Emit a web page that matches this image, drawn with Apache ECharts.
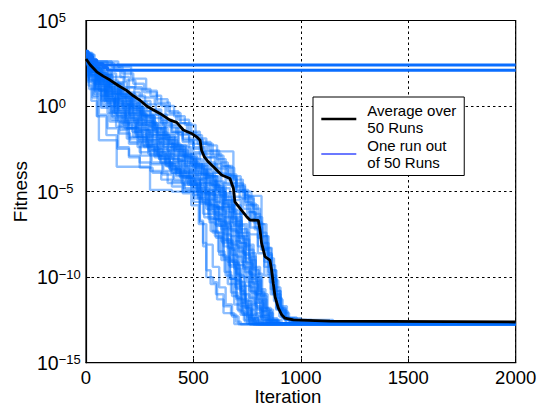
<!DOCTYPE html>
<html>
<head>
<meta charset="utf-8">
<script src="https://cdn.jsdelivr.net/npm/echarts@6/dist/echarts.min.js"></script>
<style>html,body{margin:0;padding:0;background:#fff;}#c{width:545px;height:409px;}</style>
</head>
<body>
<div id="c"></div>
<script>
// x tick values and y tick exponents
const xTicks = [0, 500, 1000, 1500, 2000];
const yTickExponents = [-15, -10, -5, 0, 5];
const legendNames = ['Average over\n50 Runs', 'One run out\nof 50 Runs'];

// Average over 50 runs: [iteration, log10(fitness)]
const average = [[0,2.75],[20,2.4],[50,2.0],[80,1.75],[112,1.52],[150,1.2],[190,0.9],[220,0.6],[250,0.35],[282,0.0],[310,-0.2],[344,-0.43],[391,-0.82],[422,-0.95],[453,-1.4],[491,-1.6],[515,-1.8],[531,-2.0],[538,-2.6],[550,-2.95],[569,-3.26],[600,-3.64],[631,-4.03],[670,-4.23],[686,-4.8],[693,-5.6],[717,-5.98],[748,-6.47],[763,-6.66],[802,-6.68],[810,-7.25],[817,-8.0],[833,-8.8],[856,-9.0],[864,-9.6],[872,-10.4],[880,-11.15],[895,-11.8],[911,-12.2],[926,-12.4],[965,-12.5],[1136,-12.57],[2000,-12.62]];

// Two runs that stagnated near the top
const stuckRuns = [
  [[0,3.2],[10,2.9],[30,2.6],[50,2.4],[2000,2.4]],
  [[0,3.0],[20,2.7],[50,2.45],[80,2.25],[100,2.09],[2000,2.09]]
];

// Individual runs: [iteration, log10(fitness)], value held until next point
const runs = [
  [[0,2.6],[12,1.2],[25,0.3],[50,-0.6],[95,-1.7],[143,-3.55],[298,-4.9],[400,-5.0],[498,-5.2],[530,-6.8],[545,-8.0],[560,-10.0],[592,-10.3],[610,-11.3],[640,-12.1],[690,-12.74],[2000,-12.74]],
  [[0,2.5],[15,1.0],[53,-0.6],[60,-2.0],[140,-2.0],[145,-2.5],[200,-3.0],[250,-3.6],[310,-3.9],[380,-4.5],[450,-5.0],[540,-5.5],[575,-6.8],[600,-7.6],[630,-9.0],[660,-10.4],[690,-11.6],[720,-12.2],[750,-12.73],[2000,-12.73]],
  [[0,2.9],[20,2.1],[45,1.2],[70,0.3],[100,-0.4],[140,-1.2],[190,-1.9],[240,-2.4],[300,-2.9],[350,-3.3],[400,-3.9],[450,-4.6],[520,-5.4],[570,-6.3],[610,-7.4],[640,-8.8],[670,-10.1],[700,-11.2],[725,-12.1],[760,-12.72],[2000,-12.72]],
  [[0,2.8],[25,1.8],[60,0.9],[90,0.2],[130,-0.7],[180,-1.3],[230,-1.6],[260,-2.3],[320,-2.7],[370,-3.4],[420,-4.1],[480,-4.4],[530,-5.1],[590,-6.0],[630,-7.2],[660,-8.3],[690,-9.5],[720,-10.8],[740,-11.7],[770,-12.4],[800,-12.74],[2000,-12.74]],
  [[0,3.0],[15,2.4],[50,1.7],[80,1.1],[120,0.4],[170,-0.1],[220,-0.8],[270,-1.4],[330,-1.9],[380,-2.6],[430,-3.2],[470,-3.8],[520,-4.3],[560,-5.0],[600,-5.9],[650,-6.8],[690,-7.9],[720,-9.1],[750,-10.3],[780,-11.5],[810,-12.3],[840,-12.72],[2000,-12.72]],
  [[0,2.7],[30,1.5],[70,0.6],[110,0.0],[150,-0.9],[200,-1.8],[250,-2.1],[290,-2.8],[340,-3.1],[390,-3.7],[440,-4.2],[500,-4.8],[540,-5.6],[580,-6.2],[620,-7.0],[660,-8.0],[690,-9.3],[715,-10.6],[740,-11.8],[770,-12.5],[790,-12.73],[2000,-12.73]],
  [[0,3.1],[20,2.6],[150,2.3],[210,1.6],[280,0.9],[330,0.4],[380,-0.3],[430,-0.8],[480,-1.5],[530,-2.1],[580,-2.8],[630,-3.5],[670,-4.2],[700,-4.9],[740,-5.6],[770,-6.6],[800,-7.7],[830,-9.1],[855,-10.3],[875,-11.4],[900,-12.3],[930,-12.71],[2000,-12.71]],
  [[0,3.0],[40,2.5],[130,2.1],[180,1.5],[230,1.0],[300,0.6],[350,0.0],[410,-0.6],[460,-1.1],[510,-1.9],[560,-2.3],[610,-3.1],[650,-3.6],[690,-4.3],[730,-5.2],[760,-6.2],[790,-7.1],[820,-8.4],[850,-9.7],[870,-10.9],[895,-11.9],[925,-12.5],[960,-12.72],[2000,-12.72]],
  [[0,2.8],[25,2.2],[70,1.5],[120,0.8],[180,0.3],[240,-0.3],[300,-0.7],[360,-1.2],[420,-1.6],[480,-2.0],[545,-2.65],[686,-4.5],[730,-5.0],[770,-5.8],[800,-6.9],[830,-8.3],[860,-9.6],[885,-10.8],[905,-11.8],[930,-12.4],[970,-12.72],[2000,-12.72]],
  [[0,2.9],[30,2.2],[80,1.4],[130,0.9],[190,0.2],[250,-0.5],[310,-1.0],[370,-1.6],[430,-2.3],[480,-2.8],[530,-3.4],[580,-3.9],[630,-4.5],[700,-5.0],[749,-5.25],[817,-7.6],[845,-8.6],[865,-9.9],[885,-11.0],[905,-11.9],[930,-12.5],[980,-12.7],[2000,-12.7]],
  [[0,2.6],[20,1.9],[60,1.2],[100,0.5],[150,-0.2],[210,-0.9],[260,-1.6],[310,-2.2],[360,-2.8],[410,-3.2],[460,-3.9],[510,-4.5],[560,-5.2],[610,-6.0],[650,-7.1],[680,-8.4],[700,-9.8],[720,-11.0],[745,-12.0],[770,-12.6],[790,-12.74],[2000,-12.74]],
  [[0,2.8],[10,2.0],[40,1.3],[90,0.7],[140,0.1],[200,-0.5],[240,-1.1],[290,-1.5],[340,-2.1],[400,-2.5],[450,-3.0],[500,-3.6],[550,-4.2],[600,-4.8],[640,-5.7],[680,-6.6],[710,-7.7],[740,-8.9],[770,-10.1],[795,-11.3],[820,-12.2],[850,-12.72],[2000,-12.72]],
  [[0,3.0],[20,2.3],[50,1.9],[100,1.3],[160,0.7],[210,0.1],[260,-0.6],[320,-1.3],[380,-1.8],[430,-2.4],[490,-3.1],[540,-3.7],[590,-4.4],[640,-5.1],[680,-5.8],[720,-6.9],[750,-8.1],[780,-9.4],[810,-10.7],[835,-11.8],[860,-12.4],[890,-12.73],[2000,-12.73]],
  [[0,2.5],[15,1.6],[45,0.8],[80,0.1],[120,-0.8],[160,-1.4],[200,-2.2],[250,-2.7],[300,-3.4],[360,-3.8],[410,-4.3],[460,-4.9],[500,-5.6],[550,-6.5],[590,-7.4],[620,-8.7],[650,-9.9],[680,-11.1],[710,-12.0],[740,-12.6],[760,-12.75],[2000,-12.75]],
  [[0,2.9],[30,2.0],[70,1.2],[110,0.7],[170,0.0],[220,-0.4],[280,-1.1],[330,-1.7],[390,-2.2],[440,-2.9],[490,-3.4],[540,-4.0],[590,-4.7],[630,-5.5],[670,-6.2],[700,-7.4],[730,-8.6],[760,-9.8],[785,-11.0],[810,-12.0],[840,-12.6],[870,-12.72],[2000,-12.72]],
  [[0,2.7],[25,2.0],[55,1.4],[95,0.6],[135,-0.1],[185,-0.7],[235,-1.3],[285,-2.0],[335,-2.5],[385,-3.1],[435,-3.6],[485,-4.2],[535,-4.7],[575,-5.4],[620,-6.3],[660,-7.2],[700,-8.3],[730,-9.5],[760,-10.8],[790,-11.8],[820,-12.5],[860,-12.73],[2000,-12.73]],
  [[0,3.0],[35,2.4],[90,1.9],[140,1.4],[190,0.8],[250,0.3],[300,-0.2],[350,-0.8],[400,-1.3],[450,-1.9],[500,-2.4],[560,-3.0],[610,-3.7],[660,-4.3],[700,-5.0],[740,-5.8],[780,-6.8],[820,-8.0],[850,-9.3],[880,-10.6],[905,-11.7],[935,-12.4],[1000,-12.6],[1100,-12.68],[2000,-12.7]],
  [[0,2.8],[20,2.3],[60,1.7],[110,1.1],[160,0.5],[220,-0.1],[270,-0.6],[320,-1.3],[370,-1.9],[420,-2.5],[470,-3.0],[520,-3.5],[570,-4.1],[620,-4.8],[670,-5.5],[720,-6.3],[760,-7.5],[800,-8.6],[830,-9.9],[860,-11.0],[885,-11.9],[910,-12.35],[980,-12.5],[1150,-12.7],[2000,-12.7]],
  [[0,2.6],[10,1.8],[40,1.0],[75,0.4],[115,-0.3],[165,-1.0],[215,-1.5],[265,-2.3],[315,-2.9],[365,-3.4],[415,-3.8],[465,-4.4],[515,-4.9],[560,-5.8],[600,-6.6],[640,-7.8],[670,-9.0],[700,-10.2],[725,-11.3],[755,-12.2],[785,-12.6],[810,-12.74],[2000,-12.74]],
  [[0,3.0],[30,2.5],[80,1.8],[120,1.0],[170,0.5],[220,-0.2],[275,-0.9],[325,-1.5],[375,-2.0],[425,-2.6],[475,-3.3],[525,-3.9],[575,-4.6],[620,-5.2],[660,-6.0],[700,-7.0],[740,-8.2],[770,-9.5],[800,-10.8],[825,-11.8],[850,-12.5],[880,-12.72],[2000,-12.72]],
  [[0,2.9],[15,2.2],[45,1.6],[85,0.9],[125,0.3],[175,-0.4],[225,-1.0],[280,-1.7],[330,-2.4],[380,-2.9],[430,-3.5],[480,-4.1],[530,-4.8],[570,-5.5],[610,-6.4],[645,-7.5],[675,-8.7],[705,-9.9],[735,-11.0],[760,-11.9],[790,-12.5],[820,-12.73],[2000,-12.73]],
  [[0,2.7],[20,1.9],[65,1.3],[105,0.4],[150,-0.3],[200,-1.2],[255,-1.8],[305,-2.5],[355,-3.0],[405,-3.7],[455,-4.2],[505,-4.6],[555,-5.1],[600,-5.9],[640,-6.9],[675,-8.1],[710,-9.3],[740,-10.5],[770,-11.6],[795,-12.3],[830,-12.72],[2000,-12.72]],
  [[0,3.1],[25,2.6],[100,2.2],[160,1.7],[200,1.1],[260,0.5],[320,0.1],[370,-0.5],[420,-1.0],[470,-1.6],[520,-2.2],[570,-2.6],[620,-3.3],[660,-4.0],[700,-4.6],[740,-5.4],[780,-6.3],[810,-7.4],[840,-8.7],[865,-10.1],[887,-11.2],[910,-12.0],[940,-12.5],[1050,-12.6],[1100,-12.72],[2000,-12.72]],
  [[0,2.8],[15,2.1],[50,1.4],[90,0.8],[140,0.2],[190,-0.5],[245,-1.1],[295,-1.8],[345,-2.3],[395,-3.0],[445,-3.4],[495,-4.0],[545,-4.5],[590,-5.2],[635,-6.1],[670,-7.0],[705,-8.2],[735,-9.4],[765,-10.6],[790,-11.7],[815,-12.4],[845,-12.73],[2000,-12.73]],
  [[0,2.6],[25,1.7],[60,0.9],[100,0.2],[145,-0.6],[195,-1.3],[245,-1.9],[295,-2.6],[345,-3.3],[395,-3.9],[445,-4.5],[490,-5.0],[530,-5.7],[570,-6.6],[605,-7.7],[640,-8.9],[670,-10.1],[700,-11.3],[730,-12.2],[760,-12.6],[780,-12.75],[2000,-12.75]],
  [[0,3.0],[20,2.4],[60,1.8],[110,1.2],[150,0.5],[200,0.0],[250,-0.6],[300,-1.2],[350,-1.9],[400,-2.3],[450,-2.8],[500,-3.4],[550,-4.0],[600,-4.6],[640,-5.3],[680,-6.1],[715,-7.2],[750,-8.4],[780,-9.6],[805,-10.9],[830,-11.9],[855,-12.5],[890,-12.72],[2000,-12.72]],
  [[0,2.7],[18,2.0],[52,1.5],[98,0.8],[148,0.0],[198,-0.6],[248,-1.4],[298,-2.0],[348,-2.6],[398,-3.1],[448,-3.7],[498,-4.3],[548,-4.9],[595,-5.6],[635,-6.5],[670,-7.6],[700,-8.8],[730,-10.0],[760,-11.2],[785,-12.1],[815,-12.6],[840,-12.74],[2000,-12.74]],
  [[0,2.9],[30,2.3],[75,1.8],[125,1.3],[175,0.7],[230,0.2],[285,-0.3],[340,-0.9],[395,-1.5],[450,-2.1],[500,-2.7],[550,-3.3],[600,-3.9],[650,-4.6],[690,-5.3],[730,-6.0],[765,-7.1],[800,-8.2],[830,-9.4],[860,-10.7],[885,-11.8],[915,-12.4],[960,-12.6],[1070,-12.72],[2000,-12.72]],
  [[0,2.5],[12,1.5],[40,0.7],[70,-0.1],[110,-0.9],[155,-1.6],[205,-2.1],[255,-2.9],[305,-3.3],[355,-4.0],[405,-4.4],[455,-4.8],[505,-5.4],[545,-6.3],[580,-7.3],[615,-8.5],[645,-9.7],[675,-10.9],[705,-11.9],[735,-12.5],[765,-12.75],[2000,-12.75]],
  [[0,2.8],[25,2.2],[70,1.6],[115,0.9],[160,0.3],[210,-0.3],[265,-0.9],[315,-1.6],[365,-2.2],[415,-2.7],[465,-3.2],[515,-3.8],[565,-4.4],[610,-5.0],[650,-5.8],[690,-6.7],[725,-7.8],[760,-9.0],[790,-10.2],[815,-11.3],[840,-12.1],[870,-12.6],[900,-12.73],[2000,-12.73]],
  [[0,2.7],[20,1.8],[55,1.0],[95,0.3],[140,-0.5],[190,-1.3],[240,-2.0],[290,-2.6],[340,-3.1],[390,-3.7],[440,-4.1],[490,-4.7],[520,-5.2],[530,-6.7],[545,-8.2],[560,-9.6],[580,-10.4],[605,-11.0],[640,-11.7],[675,-12.2],[700,-12.6],[720,-12.75],[2000,-12.75]],
  [[0,3.0],[20,2.5],[55,2.0],[100,1.5],[150,1.0],[200,0.4],[250,-0.1],[300,-0.5],[350,-1.0],[400,-1.5],[450,-2.0],[500,-2.5],[550,-3.0],[600,-3.6],[650,-4.1],[700,-4.7],[740,-5.3],[780,-6.0],[810,-6.9],[840,-8.3],[865,-9.6],[885,-10.8],[905,-11.8],[925,-12.4],[950,-12.65],[1000,-12.72],[2000,-12.72]],
  [[0,2.4],[10,1.4],[35,0.6],[70,0.0],[120,-0.6],[170,-1.3],[220,-1.8],[270,-2.4],[320,-3.0],[370,-3.5],[420,-4.0],[470,-4.5],[515,-5.0],[555,-5.7],[595,-6.6],[630,-7.9],[660,-9.1],[690,-10.4],[720,-11.5],[750,-12.3],[780,-12.74],[2000,-12.74]],
  [[0,2.9],[15,2.4],[45,1.9],[90,1.4],[135,0.7],[185,0.1],[235,-0.5],[285,-1.0],[335,-1.7],[385,-2.4],[435,-2.9],[485,-3.5],[535,-4.2],[580,-4.9],[625,-5.7],[665,-6.5],[700,-7.6],[735,-8.7],[765,-9.9],[795,-11.0],[820,-12.0],[850,-12.55],[900,-12.72],[2000,-12.72]],
  [[0,2.8],[20,2.2],[60,1.6],[100,1.0],[150,0.4],[205,-0.2],[255,-0.8],[310,-1.4],[360,-2.0],[410,-2.6],[460,-3.1],[510,-3.7],[560,-4.3],[605,-5.0],[645,-5.9],[685,-6.9],[715,-8.0],[745,-9.2],[775,-10.4],[800,-11.5],[825,-12.3],[855,-12.73],[2000,-12.73]],
  [[0,2.6],[15,1.5],[40,0.9],[85,0.3],[130,-0.4],[175,-1.1],[230,-1.7],[280,-2.2],[330,-2.8],[375,-3.5],[425,-3.9],[475,-4.6],[520,-5.3],[560,-6.0],[600,-6.9],[635,-8.0],[665,-9.3],[695,-10.6],[720,-11.7],[750,-12.4],[775,-12.74],[2000,-12.74]],
  [[0,3.1],[30,2.6],[120,2.3],[170,1.9],[220,1.3],[270,0.8],[330,0.2],[390,-0.4],[440,-1.0],[490,-1.7],[540,-2.2],[590,-2.9],[640,-3.5],[680,-4.1],[720,-4.9],[755,-5.7],[790,-6.5],[820,-7.6],[850,-8.9],[875,-10.2],[895,-11.3],[915,-12.1],[945,-12.55],[1020,-12.66],[1120,-12.72],[2000,-12.72]],
  [[0,2.7],[25,2.1],[65,1.5],[105,0.7],[155,0.1],[205,-0.7],[260,-1.2],[310,-1.9],[360,-2.4],[410,-2.9],[460,-3.5],[510,-4.0],[560,-4.6],[600,-5.3],[640,-6.2],[675,-7.3],[710,-8.5],[740,-9.7],[770,-10.9],[795,-11.9],[825,-12.5],[865,-12.73],[2000,-12.73]],
  [[0,2.5],[10,1.7],[30,0.5],[60,-0.5],[100,-1.3],[150,-2.4],[200,-2.9],[250,-3.3],[300,-3.8],[350,-4.3],[400,-4.7],[450,-5.1],[490,-5.8],[525,-6.9],[560,-8.1],[590,-9.4],[620,-10.6],[650,-11.6],[680,-12.3],[710,-12.75],[2000,-12.75]],
  [[0,2.9],[20,2.4],[65,1.9],[115,1.3],[165,0.6],[215,0.0],[265,-0.5],[315,-1.1],[365,-1.7],[415,-2.3],[465,-2.9],[515,-3.5],[565,-4.1],[610,-4.7],[650,-5.5],[690,-6.3],[725,-7.4],[760,-8.6],[790,-9.8],[820,-11.0],[845,-11.9],[870,-12.5],[910,-12.72],[2000,-12.72]],
  [[0,2.8],[15,2.0],[45,1.1],[85,0.5],[130,-0.2],[180,-0.9],[230,-1.5],[280,-2.3],[330,-2.9],[380,-3.3],[430,-3.8],[480,-4.3],[530,-5.0],[575,-5.8],[615,-6.7],[650,-7.8],[680,-9.1],[710,-10.3],[740,-11.4],[770,-12.2],[800,-12.65],[825,-12.74],[2000,-12.74]],
  [[0,3.0],[25,2.5],[75,2.1],[120,1.7],[175,1.1],[225,0.6],[275,0.1],[325,-0.5],[375,-1.1],[430,-1.7],[480,-2.2],[530,-2.8],[580,-3.4],[630,-4.0],[675,-4.7],[715,-5.4],[750,-6.2],[785,-7.2],[815,-8.4],[845,-9.8],[870,-11.0],[892,-11.9],[920,-12.45],[960,-12.65],[1010,-12.72],[2000,-12.72]],
  [[0,2.6],[20,1.8],[50,1.0],[90,0.4],[135,-0.4],[185,-1.0],[235,-1.8],[285,-2.4],[335,-2.9],[385,-3.6],[435,-4.1],[485,-4.6],[530,-5.2],[570,-6.1],[605,-7.0],[640,-8.2],[670,-9.4],[700,-10.7],[730,-11.8],[760,-12.5],[790,-12.74],[2000,-12.74]],
  [[0,2.9],[30,2.3],[70,1.7],[110,1.1],[160,0.6],[210,-0.1],[260,-0.7],[310,-1.3],[360,-1.8],[410,-2.4],[460,-3.0],[510,-3.6],[560,-4.1],[610,-4.9],[650,-5.6],[690,-6.5],[725,-7.6],[760,-8.8],[790,-10.0],[815,-11.1],[840,-12.0],[865,-12.5],[895,-12.72],[2000,-12.72]],
  [[0,2.7],[15,2.1],[50,1.3],[90,0.6],[135,0.0],[185,-0.8],[240,-1.4],[290,-2.1],[340,-2.7],[390,-3.3],[440,-3.9],[490,-4.5],[535,-5.1],[580,-5.9],[620,-6.8],[655,-7.9],[685,-9.2],[715,-10.5],[745,-11.6],[775,-12.4],[805,-12.74],[2000,-12.74]],
  [[0,2.8],[25,2.0],[60,1.5],[105,0.9],[150,0.2],[200,-0.4],[255,-1.0],[305,-1.7],[355,-2.2],[405,-2.8],[455,-3.3],[505,-3.9],[555,-4.5],[600,-5.1],[640,-5.9],[680,-6.8],[715,-8.0],[745,-9.1],[775,-10.3],[805,-11.4],[830,-12.2],[860,-12.6],[885,-12.73],[2000,-12.73]]
];

const FONT = '"Liberation Sans", Arial, Helvetica, sans-serif';
const toValues = arr => arr.map(p => [p[0], Math.pow(10, p[1])]);

const series = [];
runs.forEach(r => series.push({
  name: legendNames[1], type: 'line', step: 'end', data: toValues(r),
  symbol: 'none', silent: true, z: 2,
  lineStyle: { color: 'rgba(0,110,255,0.45)', width: 2.4 }
}));
stuckRuns.forEach(r => series.push({
  name: legendNames[1], type: 'line', step: 'end', data: toValues(r),
  symbol: 'none', silent: true, z: 3,
  lineStyle: { color: '#0a6eff', width: 3 }
}));
series.push({
  name: legendNames[0], type: 'line', data: toValues(average),
  symbol: 'none', silent: true, z: 5,
  lineStyle: { color: '#000', width: 2.8 }
});

const hidden = { color: 'rgba(0,0,0,0)', borderColor: 'rgba(0,0,0,0)', borderWidth: 0, opacity: 0 };

const chart = echarts.init(document.getElementById('c'), null, { renderer: 'svg' });
chart.setOption({
  animation: false,
  backgroundColor: '#fff',
  grid: { left: 86, right: 29.3, top: 20.5, bottom: 46.3, containLabel: false, outerBoundsMode: 'none', show: true, borderColor: '#000', borderWidth: 1.2, backgroundColor: 'transparent' },
  legend: {
    left: 313, top: 97, orient: 'vertical', itemGap: 0, itemWidth: 35, itemHeight: 14,
    padding: [4.5, 8, 4, 7],
    borderColor: '#000', borderWidth: 1, backgroundColor: '#fff', borderRadius: 0,
    selectedMode: false,
    textStyle: { fontFamily: FONT, fontSize: 15, lineHeight: 17.5, color: '#000', padding: [0, 0, 0, 6] },
    data: [
      { name: legendNames[0], lineStyle: { color: '#000', width: 2.6 }, itemStyle: hidden },
      { name: legendNames[1], lineStyle: { color: '#3a4cff', width: 1.6 }, itemStyle: hidden }
    ]
  },
  xAxis: {
    type: 'value', min: xTicks[0], max: xTicks[xTicks.length - 1], interval: 500,
    name: 'Iteration', nameLocation: 'middle', nameGap: 24, nameMoveOverlap: false,
    nameTextStyle: { fontFamily: FONT, fontSize: 18.5, lineHeight: 19, color: '#000', padding: [0, 26, 0, 0] },
    axisLine: { show: true, lineStyle: { color: '#000', width: 1.2 } },
    axisTick: { show: true, inside: true, length: 4, lineStyle: { color: '#000' } },
    axisLabel: { fontFamily: FONT, fontSize: 18.5, color: '#000', margin: 5, formatter: v => String(v) },
    splitLine: { show: true, lineStyle: { color: '#000', type: [2.5, 3], width: 1 } }
  },
  yAxis: {
    type: 'log', logBase: 10, min: Math.pow(10, yTickExponents[0]), max: Math.pow(10, yTickExponents[yTickExponents.length - 1]), interval: 5,
    name: 'Fitness', nameLocation: 'middle', nameGap: 56, nameRotate: 90, nameMoveOverlap: false,
    nameTextStyle: { fontFamily: FONT, fontSize: 19, color: '#000' },
    axisLine: { show: true, lineStyle: { color: '#000', width: 1.2 } },
    axisTick: { show: true, inside: true, length: 4, lineStyle: { color: '#000' } },
    minorTick: { show: false },
    axisLabel: {
      align: 'left', margin: 49, fontSize: 19, fontFamily: FONT, color: '#000',
      formatter: v => {
        const e = Math.round(Math.log10(v));
        return '{b|10}{s|' + String(e).replace('-', '\u2212') + '}';
      },
      rich: {
        b: { fontFamily: FONT, fontSize: 19.5, color: '#000', lineHeight: 19, padding: [6, 0, 6, 0] },
        s: { fontFamily: FONT, fontSize: 13, color: '#000', lineHeight: 13, verticalAlign: 'top' }
      }
    },
    splitLine: { show: true, lineStyle: { color: '#000', type: [2.5, 3], width: 1 } }
  },
  series: series
});
</script>
</body>
</html>
